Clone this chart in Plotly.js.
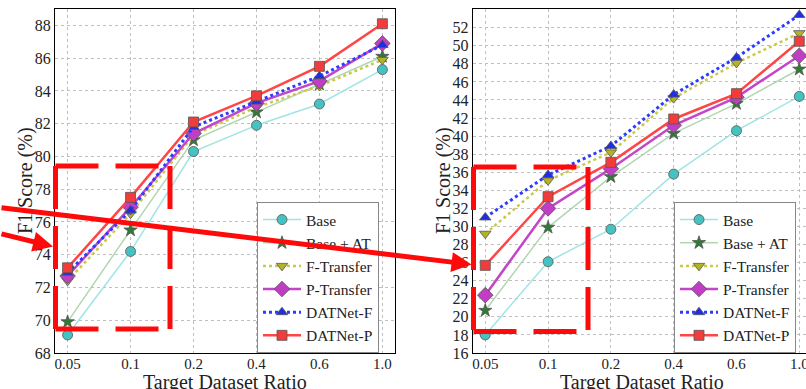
<!DOCTYPE html>
<html>
<head>
<meta charset="utf-8">
<script src="https://cdn.plot.ly/plotly-3.0.1.min.js"></script>
<style>html,body{margin:0;padding:0;background:#fff;}#chart{width:806px;height:389px;}</style>
</head>
<body>
<div id="chart"></div>
<script>
const categories = ['0.05', '0.1', '0.2', '0.4', '0.6', '1.0'];
const seriesNames = ['Base', 'Base + AT', 'F-Transfer', 'P-Transfer', 'DATNet-F', 'DATNet-P'];

// Left panel
const leftBase      = [69.1, 74.2, 80.3, 81.9, 83.2, 85.3];
const leftBaseAT    = [69.9, 75.5, 81.0, 82.7, 84.4, 86.1];
const leftFTransfer = [72.4, 76.5, 81.3, 83.0, 84.3, 85.9];
const leftPTransfer = [72.7, 76.9, 81.4, 83.25, 84.6, 86.9];
const leftDATNetF   = [72.9, 76.7, 81.8, 83.35, 84.9, 86.8];
const leftDATNetP   = [73.2, 77.5, 82.1, 83.7, 85.5, 88.1];

// Right panel
const rightBase      = [18.0, 26.1, 29.7, 35.8, 40.6, 44.4];
const rightBaseAT    = [20.7, 29.9, 35.5, 40.3, 43.6, 47.4];
const rightFTransfer = [29.2, 35.1, 38.2, 44.2, 48.1, 51.4];
const rightPTransfer = [22.4, 32.0, 36.4, 41.2, 44.3, 48.9];
const rightDATNetF   = [31.0, 35.7, 38.9, 44.6, 48.7, 53.4];
const rightDATNetP   = [25.7, 33.3, 37.1, 41.9, 44.7, 50.5];

const leftTicks = [68, 70, 72, 74, 76, 78, 80, 82, 84, 86, 88];
const rightTicks = [16, 18, 20, 22, 24, 26, 28, 30, 32, 34, 36, 38, 40, 42, 44, 46, 48, 50, 52];

const xTitle = 'Target Dataset Ratio';
const yTitle = 'F1 Score (%)';

const styles = [
  {line: {color: 'rgba(150,225,225,0.9)', width: 1.5, dash: 'solid'}, marker: {symbol: 'circle', size: 10, color: '#45c2c2'}},
  {line: {color: 'rgba(170,210,170,0.9)', width: 1.5, dash: 'solid'}, marker: {symbol: 'star', size: 10, color: '#2f7a34'}},
  {line: {color: '#c9c94a', width: 2.5, dash: 'dot'}, marker: {symbol: 'triangle-down', size: 10, color: '#b3b324'}},
  {line: {color: '#c445c8', width: 2.5, dash: 'solid'}, marker: {symbol: 'diamond', size: 12, color: '#c23dc6'}},
  {line: {color: '#2a3cff', width: 3, dash: 'dot'}, marker: {symbol: 'triangle-up', size: 10, color: '#1f2ee6'}},
  {line: {color: '#ff4545', width: 2.5, dash: 'solid'}, marker: {symbol: 'square', size: 10, color: '#f23c3c'}}
];

const leftSeries = [leftBase, leftBaseAT, leftFTransfer, leftPTransfer, leftDATNetF, leftDATNetP];
const rightSeries = [rightBase, rightBaseAT, rightFTransfer, rightPTransfer, rightDATNetF, rightDATNetP];

const traces = [];
function addTraces(seriesList, xa, ya, legendId) {
  seriesList.forEach((vals, i) => {
    const st = styles[i];
    traces.push({
      type: 'scatter', mode: 'lines+markers',
      x: categories, y: vals, xaxis: xa, yaxis: ya,
      name: seriesNames[i], legend: legendId,
      line: st.line,
      marker: {symbol: st.marker.symbol, size: st.marker.size, color: st.marker.color,
               line: {color: '#555', width: 0.8}},
      cliponaxis: false
    });
  });
}
addTraces(leftSeries, 'x', 'y', 'legend');
addTraces(rightSeries, 'x2', 'y2', 'legend2');

const serif = '"Liberation Serif", "DejaVu Serif", "Times New Roman", serif';
const xTickFont = {family: serif, size: 15, color: '#222'};
const yTickFont = {family: serif, size: 16, color: '#222'};
const titleFont = {family: serif, size: 20, color: '#222'};

const axisCommon = {
  showline: true, linecolor: '#000', linewidth: 1, mirror: true,
  showgrid: true, gridcolor: '#bfbfbf', griddash: 'dot', gridwidth: 1,
  zeroline: false, ticks: ''
};

const red = '#ff0a0a';
function dashLine(x0, y0, x1, y1) {
  return {type: 'line', xref: 'paper', yref: 'paper', x0: x0, y0: y0, x1: x1, y1: y1,
          line: {color: red, width: 5, dash: '43px,17px'}};
}
// paper helpers: plot area spans px 55..806 (x) and 9..353 (y)
const px = v => (v - 55) / 751;
const py = v => (353 - v) / 344;

const shapes = [
  // left box
  dashLine(px(55.5), py(166), px(170), py(166)),
  dashLine(px(55.5), py(166), px(55.5), py(329)),
  dashLine(px(170), py(166), px(170), py(329)),
  dashLine(px(55.5), py(329), px(170), py(329)),
  // right box
  dashLine(px(473.5), py(167), px(588), py(167)),
  dashLine(px(473.5), py(167), px(473.5), py(331.5)),
  dashLine(px(588), py(167), px(588), py(331.5)),
  dashLine(px(473.5), py(331.5), px(588), py(331.5))
];

function titleAnn(text, x, y, angle) {
  return {xref: 'paper', yref: 'paper', x: x, y: y, xanchor: 'center', yanchor: 'middle',
          text: text, showarrow: false, textangle: angle, font: titleFont};
}

const annotations = [
  titleAnn(xTitle, px(225), py(382), 0),
  titleAnn(xTitle, px(642), py(382), 0),
  titleAnn(yTitle, px(25), py(181), -90),
  titleAnn(yTitle, px(443), py(181), -90),
  {xref: 'paper', yref: 'paper', x: px(471.5), y: py(264.5), ax: -500, ay: -57,
   axref: 'pixel', ayref: 'pixel', text: '', showarrow: true,
   arrowhead: 2, arrowsize: 0.8, arrowwidth: 5, arrowcolor: red, standoff: 0},
  {xref: 'paper', yref: 'paper', x: px(53), y: py(246.5), ax: -76, ay: -13,
   axref: 'pixel', ayref: 'pixel', text: '', showarrow: true,
   arrowhead: 2, arrowsize: 0.8, arrowwidth: 5, arrowcolor: red, standoff: 0}
];

const legendCommon = {
  font: {family: serif, size: 15.5, color: '#222'},
  bgcolor: '#fff', bordercolor: '#888', borderwidth: 1,
  xanchor: 'left', yanchor: 'top', itemwidth: 38, tracegroupgap: 0
};

const layout = {
  width: 806, height: 389,
  margin: {l: 55, r: 0, t: 9, b: 36},
  paper_bgcolor: '#fff', plot_bgcolor: '#fff',
  xaxis: Object.assign({}, axisCommon, {domain: [0, 0.4527], type: 'category', range: [-0.2, 5.2],
    anchor: 'y', tickfont: xTickFont, ticklabelstandoff: -3}),
  yaxis: Object.assign({}, axisCommon, {domain: [0, 1], range: [68, 89], tickvals: leftTicks,
    anchor: 'x', tickfont: yTickFont}),
  xaxis2: Object.assign({}, axisCommon, {domain: [0.5562, 1], type: 'category', range: [-0.2, 5.107],
    anchor: 'y2', tickfont: xTickFont, ticklabelstandoff: -3}),
  yaxis2: Object.assign({}, axisCommon, {domain: [0, 1], range: [16, 54.07], tickvals: rightTicks,
    anchor: 'x2', tickfont: yTickFont}),
  legend: Object.assign({}, legendCommon, {x: px(257), y: py(202)}),
  legend2: Object.assign({}, legendCommon, {x: px(674), y: py(202)}),
  shapes: shapes,
  annotations: annotations,
  showlegend: true
};

Plotly.newPlot('chart', traces, layout, {displayModeBar: false, staticPlot: true});
</script>
</body>
</html>
